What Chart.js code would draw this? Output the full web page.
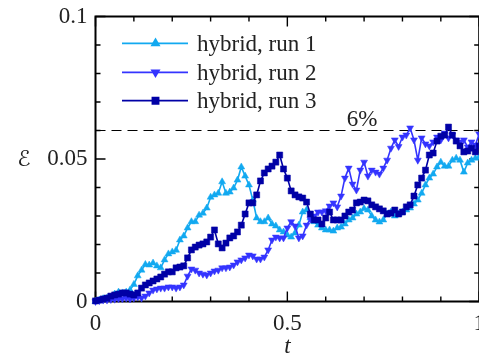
<!DOCTYPE html>
<html><head><meta charset="utf-8">
<script src="https://cdn.jsdelivr.net/npm/chart.js@4.4.1/dist/chart.umd.min.js"></script>
<style>
html,body{margin:0;padding:0;overflow:hidden;background:#fff;width:479px;height:364px}
#wrap{position:absolute;left:0;top:0;width:479px;height:364px;overflow:hidden}
</style>
</head><body><div id="wrap"><canvas id="c" width="484" height="364" style="width:484px;height:364px"></canvas></div>
<script>
const tValues = [0,0.01,0.02,0.03,0.04,0.05,0.06,0.07,0.08,0.09,
0.10,0.11,0.12,0.13,0.14,0.15,0.16,0.17,0.18,0.19,
0.20,0.21,0.22,0.23,0.24,0.25,0.26,0.27,0.28,0.29,
0.30,0.31,0.32,0.33,0.34,0.35,0.36,0.37,0.38,0.39,
0.40,0.41,0.42,0.43,0.44,0.45,0.46,0.47,0.48,0.49,
0.50,0.51,0.52,0.53,0.54,0.55,0.56,0.57,0.58,0.59,
0.60,0.61,0.62,0.63,0.64,0.65,0.66,0.67,0.68,0.69,
0.70,0.71,0.72,0.73,0.74,0.75,0.76,0.77,0.78,0.79,
0.80,0.81,0.82,0.83,0.84,0.85,0.86,0.87,0.88,0.89,
0.90,0.91,0.92,0.93,0.94,0.95,0.96,0.97,0.98,0.99,1.00];

const run1 = [0,0.0005,0.001,0.0012,0.001,0.0026,0.0033,0.003,0.0033,0.004,
0.006,0.009,0.011,0.013,0.0128,0.0135,0.0125,0.0118,0.0146,0.0167,
0.0174,0.018,0.0216,0.023,0.0258,0.028,0.028,0.0303,0.031,0.0328,
0.0366,0.0374,0.038,0.042,0.038,0.0384,0.0398,0.0426,0.0472,0.044,
0.0409,0.0356,0.0293,0.028,0.028,0.0293,0.0272,0.0265,0.0251,0.0244,
0.0233,0.0226,0.024,0.0268,0.0314,0.0321,0.0293,0.028,0.0268,0.0258,
0.0251,0.0251,0.0247,0.0258,0.0261,0.0272,0.0286,0.0293,0.0307,0.0314,
0.0326,0.0321,0.03,0.0286,0.0279,0.0286,0.0307,0.0314,0.03,0.0307,
0.0314,0.0321,0.0328,0.0342,0.0356,0.038,0.0409,0.0433,0.0447,0.0472,
0.0489,0.0475,0.0475,0.0496,0.0503,0.0496,0.0454,0.0486,0.0496,0.0503,0.0507];

const run2 = [0,0.0003,0.0005,0.0005,0.0007,0.0008,0.001,0.001,0.0012,0.0009,
0.0012,0.0016,0.0012,0.0019,0.003,0.004,0.0044,0.0047,0.0047,0.0051,
0.0051,0.0047,0.0051,0.0058,0.0089,0.0114,0.011,0.01,0.0096,0.0093,
0.01,0.0107,0.011,0.0118,0.0118,0.0121,0.0128,0.0139,0.0146,0.0153,
0.0163,0.016,0.0149,0.0149,0.0156,0.0181,0.0216,0.0226,0.0223,0.0223,
0.0258,0.028,0.0265,0.0223,0.023,0.0268,0.0289,0.03,0.0314,0.0314,
0.0318,0.0335,0.0346,0.0332,0.037,0.0433,0.0468,0.0412,0.0391,0.0461,
0.0489,0.044,0.0461,0.0454,0.0447,0.0468,0.0496,0.0538,0.0567,0.0544,
0.0577,0.0584,0.0609,0.0567,0.0496,0.0574,0.0553,0.0546,0.056,0.0577,
0.0567,0.0591,0.0574,0.0584,0.0567,0.056,0.0567,0.0542,0.056,0.0549,0.0588];

const run3 = [0.0002,0.0005,0.0009,0.0012,0.0019,0.0023,0.0026,0.003,0.003,0.0026,
0.0023,0.003,0.0047,0.0058,0.0065,0.0072,0.0079,0.0086,0.0096,0.0104,
0.0104,0.0118,0.0121,0.0125,0.0153,0.0181,0.0191,0.0198,0.0202,0.0209,
0.0226,0.0251,0.0202,0.0188,0.0205,0.0223,0.023,0.0244,0.0268,0.0307,
0.0346,0.0346,0.0374,0.0423,0.0451,0.0465,0.0475,0.0489,0.0514,0.0465,
0.0433,0.0388,0.0374,0.0367,0.0363,0.0349,0.0307,0.0286,0.0286,0.0272,
0.0293,0.0314,0.0286,0.0286,0.0286,0.03,0.0314,0.0321,0.0346,0.0349,
0.0356,0.0353,0.0339,0.0332,0.0325,0.0318,0.0307,0.031,0.0321,0.0307,
0.0314,0.0332,0.0339,0.037,0.0409,0.0433,0.0461,0.0514,0.0521,0.0563,
0.058,0.0584,0.0612,0.0584,0.0563,0.0546,0.0525,0.0528,0.0538,0.0525,0.0546];

const seriesNames = ['hybrid, run 1','hybrid, run 2','hybrid, run 3'];
const xTickValues = [0, 0.5, 1];
const xTickLabels = ['0', '0.5', '1'];
const yTickValues = [0, 0.05, 0.1];
const yTickLabels = ['0', '0.05', '0.1'];
const xMinorTicks = [0,0.1,0.2,0.3,0.4,0.5,0.6,0.7,0.8,0.9,1];
const yMinorTicks = [0,0.01,0.02,0.03,0.04,0.05,0.06,0.07,0.08,0.09,0.1];
const thresholdValue = 0.06;
const thresholdLabel = '6%';
const thresholdLabelT = 0.695;
const xTitle = 't';
const yTitle = 'ℰ';

const toPts = arr => arr.map((v, i) => ({x: tValues[i], y: v}));
const SERIF = '"Liberation Serif", "DejaVu Serif", serif';
const TXT = '#222';

const styles = [
  {color: '#12a9f0', pointStyle: 'triangle', rotation: 0, radius: 4},
  {color: '#3434ff', pointStyle: 'triangle', rotation: 180, radius: 4},
  {color: '#0000a6', pointStyle: 'rect', rotation: 0, radius: 4.3}
];
const seriesData = [run1, run2, run3];

const datasets = seriesData.map((d, i) => ({
  label: seriesNames[i],
  data: toPts(d),
  borderColor: styles[i].color,
  backgroundColor: styles[i].color,
  borderWidth: 1.6,
  pointStyle: styles[i].pointStyle,
  pointRotation: styles[i].rotation,
  pointRadius: styles[i].radius,
  pointBorderWidth: 0.5,
  pointHoverRadius: styles[i].radius,
  tension: 0,
  clip: false,
  order: 2 - i
}));
datasets.push({
  label: 'threshold',
  data: [{x: 0, y: thresholdValue}, {x: 1, y: thresholdValue}],
  borderColor: '#000',
  borderWidth: 1.2,
  borderDash: [10, 6],
  pointRadius: 0,
  clip: false,
  order: 5
});

const noPad = s => { s.paddingTop = 0; s.paddingBottom = 0; s.paddingLeft = 0; s.paddingRight = 0; };

const framePlugin = {
  id: 'frame',
  beforeDatasetsDraw(chart) {
    const {ctx, chartArea: a, scales: {x, y}} = chart;
    ctx.save();
    ctx.strokeStyle = '#000';
    ctx.lineWidth = 1.4;
    ctx.beginPath();
    xMinorTicks.forEach(v => {
      const px = x.getPixelForValue(v);
      const len = xTickValues.includes(v) ? 10 : 5;
      ctx.moveTo(px, a.bottom); ctx.lineTo(px, a.bottom - len);
      ctx.moveTo(px, a.top); ctx.lineTo(px, a.top + len);
    });
    yMinorTicks.forEach(v => {
      const py = y.getPixelForValue(v);
      const len = yTickValues.includes(v) ? 10 : 5;
      ctx.moveTo(a.left, py); ctx.lineTo(a.left + len, py);
      ctx.moveTo(a.right, py); ctx.lineTo(a.right - len, py);
    });
    ctx.stroke();
    ctx.lineWidth = 2;
    ctx.strokeRect(a.left, a.top, a.right - a.left, a.bottom - a.top);
    ctx.restore();
  },
  afterDraw(chart) {
    const {ctx, chartArea: a, scales: {x, y}} = chart;
    ctx.save();
    ctx.fillStyle = TXT;
    ctx.font = '23px ' + SERIF;
    ctx.textAlign = 'center';
    ctx.textBaseline = 'alphabetic';
    ctx.fillText(thresholdLabel, x.getPixelForValue(thresholdLabelT), y.getPixelForValue(thresholdValue) - 4.5);
    ctx.font = 'italic 23px ' + SERIF;
    ctx.textBaseline = 'middle';
    ctx.fillText(xTitle, x.getPixelForValue(0.5), 347);
    ctx.font = 'italic 22px "DejaVu Serif", "DejaVu Sans", serif';
    ctx.fillText(yTitle, 24, y.getPixelForValue(0.05) + 1);
    const rows = [43.3, 72.3, 100.7];
    chart.data.datasets.slice(0, 3).forEach((ds, i) => {
      const yy = rows[i];
      ctx.strokeStyle = ds.borderColor;
      ctx.lineWidth = 1.8;
      ctx.beginPath(); ctx.moveTo(122, yy); ctx.lineTo(188, yy); ctx.stroke();
      Chart.helpers.drawPoint(ctx, {pointStyle: ds.pointStyle, rotation: ds.pointRotation, radius: ds.pointRadius, borderWidth: 0.5}, 155.5, yy);
      ctx.fillStyle = ds.borderColor;
      ctx.fill();
      ctx.fillStyle = TXT;
      ctx.font = '23px ' + SERIF;
      ctx.textAlign = 'left';
      ctx.textBaseline = 'alphabetic';
      ctx.fillText(ds.label, 197, yy + 7.5);
    });
    ctx.restore();
  }
};

new Chart(document.getElementById('c'), {
  type: 'line',
  data: {datasets},
  options: {
    responsive: false,
    animation: false,
    devicePixelRatio: 1,
    layout: {padding: {left: 0, right: 0.5, top: 16.5, bottom: 0}},
    plugins: {legend: {display: false}, tooltip: {enabled: false}},
    scales: {
      x: {
        type: 'linear', min: 0, max: 1,
        grid: {display: false, drawTicks: false},
        border: {display: false},
        afterFit: s => { s.height = 62.5; noPad(s); },
        afterBuildTicks: s => { s.ticks = xTickValues.map(v => ({value: v})); },
        ticks: {
          padding: 9, color: TXT, maxRotation: 0, autoSkip: false,
          font: {family: SERIF, size: 23},
          callback: v => xTickLabels[xTickValues.indexOf(v)]
        }
      },
      y: {
        type: 'linear', min: 0, max: 0.1,
        grid: {display: false, drawTicks: false},
        border: {display: false},
        afterFit: s => { s.width = 95.5; noPad(s); },
        afterBuildTicks: s => { s.ticks = yTickValues.map(v => ({value: v})); },
        ticks: {
          padding: 8, color: TXT, autoSkip: false,
          font: {family: SERIF, size: 23},
          callback: v => yTickLabels[yTickValues.indexOf(v)]
        }
      }
    }
  },
  plugins: [framePlugin]
});
</script>
</body></html>
